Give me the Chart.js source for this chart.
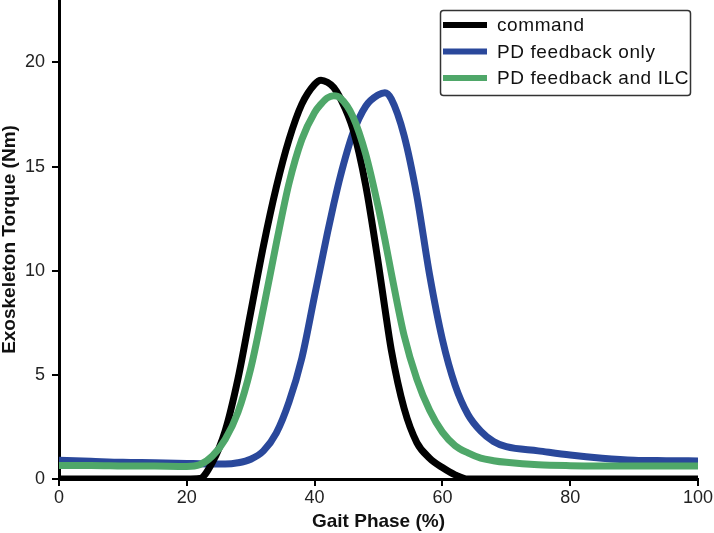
<!DOCTYPE html>
<html>
<head>
<meta charset="utf-8">
<script src="https://cdn.jsdelivr.net/npm/chart.js@4"></script>
<style>
    html, body { margin: 0; padding: 0; background: #ffffff; }
    #wrap { width: 714px; height: 533px; }
</style>
</head>
<body>
<div id="wrap"><canvas id="torqueChart" width="714" height="533"></canvas></div>
<script>
// gait phase (%) sample points, shared by all three curves
const phase = [0, 5, 10, 15, 20, 22, 24, 26, 28, 30, 32, 34, 36, 38, 40, 41, 42, 43, 44, 46, 48, 50, 51, 52, 54, 56, 58, 60, 62, 64, 66, 68, 70, 75, 80, 85, 90, 95, 100];

// torque values (Nm)
const command = [0, 0, 0, 0, 0, 0.02, 0.8, 2.3, 4.8, 8.0, 11.2, 14.0, 16.3, 18.0, 18.95, 19.15, 19.05, 18.8, 18.3, 16.8, 14.1, 10.3, 8.2, 6.2, 3.4, 1.75, 1.0, 0.55, 0.2, 0, 0, 0, 0, 0, 0, 0, 0, 0, 0];
const pdOnly = [0.9, 0.85, 0.8, 0.78, 0.75, 0.73, 0.72, 0.72, 0.78, 0.95, 1.35, 2.2, 3.7, 5.8, 8.8, 10.3, 11.8, 13.2, 14.5, 16.6, 17.9, 18.45, 18.55, 18.25, 16.5, 13.6, 9.8, 6.7, 4.5, 3.1, 2.3, 1.8, 1.55, 1.35, 1.15, 1.0, 0.9, 0.88, 0.87];
const pdIlc = [0.65, 0.65, 0.63, 0.62, 0.6, 0.68, 1.1, 1.9, 3.2, 5.3, 8.2, 11.3, 14.2, 16.3, 17.6, 18.0, 18.3, 18.4, 18.3, 17.4, 15.6, 13.0, 11.5, 9.9, 6.9, 4.8, 3.3, 2.25, 1.6, 1.25, 1.0, 0.88, 0.8, 0.68, 0.64, 0.63, 0.63, 0.63, 0.63];

const seriesNames = ['command', 'PD feedback only', 'PD feedback and ILC'];
const seriesColors = ['#000000', '#2a489b', '#4fa769'];

const yTicks = [0, 5, 10, 15, 20];
const xTicks = [0, 20, 40, 60, 80, 100];

const FONT = "'Liberation Sans', Arial, sans-serif";

function toPoints(values) {
    return phase.map((p, i) => ({ x: p, y: values[i] }));
}

// Boxed legend in the upper right, drawn from the dataset labels/colours
const boxLegend = {
    id: 'boxLegend',
    afterDraw(chart) {
        const ctx = chart.ctx;
        const x0 = 440.5, y0 = 10.5, w = 250, h = 85;
        ctx.save();
        ctx.beginPath();
        ctx.roundRect(x0, y0, w, h, 3);
        ctx.fillStyle = '#ffffff';
        ctx.fill();
        ctx.lineWidth = 1.5;
        ctx.strokeStyle = '#333333';
        ctx.stroke();

        ctx.font = '19px ' + FONT;
        ctx.textBaseline = 'middle';
        ctx.fillStyle = '#111111';
        ctx.letterSpacing = '0.6px';
        chart.data.datasets.forEach((ds, i) => {
            const y = 25 + i * 26.5;
            ctx.beginPath();
            ctx.moveTo(443, y);
            ctx.lineTo(487, y);
            ctx.lineWidth = 6;
            ctx.strokeStyle = ds.borderColor;
            ctx.stroke();
            ctx.fillText(ds.label, 497, y + 1);
        });
        ctx.restore();
    }
};

function axisStyle() {
    return {
        grid: {
            display: true,
            drawOnChartArea: false,
            drawTicks: true,
            tickLength: 7,
            color: '#000000',
            lineWidth: 2
        },
        border: {
            display: true,
            color: '#000000',
            width: 3
        }
    };
}

const ctx = document.getElementById('torqueChart').getContext('2d');
const chart = new Chart(ctx, {
    type: 'line',
    data: {
        datasets: [command, pdOnly, pdIlc].map((vals, i) => ({
            label: seriesNames[i],
            data: toPoints(vals),
            borderColor: seriesColors[i],
            borderWidth: 7,
            pointRadius: 0,
            fill: false,
            cubicInterpolationMode: 'monotone',
            order: [1, 2, 0][i]   // green on top, then black, blue underneath
        }))
    },
    options: {
        responsive: false,
        animation: false,
        devicePixelRatio: 1,
        layout: {
            padding: { left: 0, right: 15, top: 0, bottom: 0 }
        },
        plugins: {
            legend: { display: false },
            tooltip: { enabled: false }
        },
        scales: {
            x: {
                type: 'linear',
                min: 0,
                max: 100,
                ...axisStyle(),
                afterBuildTicks: scale => { scale.ticks = xTicks.map(v => ({ value: v })); },
                afterFit: scale => { scale.height = 54; },
                ticks: {
                    font: { size: 18, family: FONT },
                    color: '#222222',
                    padding: 1,
                    maxRotation: 0
                },
                title: {
                    display: true,
                    text: 'Gait Phase (%)',
                    font: { size: 19, weight: 'bold', family: FONT },
                    color: '#111111',
                    padding: { top: 0, bottom: 0 }
                }
            },
            y: {
                type: 'linear',
                min: 0,
                max: 23,
                ...axisStyle(),
                afterBuildTicks: scale => { scale.ticks = yTicks.map(v => ({ value: v })); },
                afterFit: scale => {
                    scale.width = 59;
                    scale.paddingTop = 0;
                    scale.paddingBottom = 0;
                },
                ticks: {
                    font: { size: 18, family: FONT },
                    color: '#222222',
                    padding: 7
                },
                title: {
                    display: true,
                    text: 'Exoskeleton Torque (Nm)',
                    font: { size: 19, weight: 'bold', family: FONT, lineHeight: 1 },
                    color: '#111111',
                    padding: 0
                }
            }
        }
    },
    plugins: [boxLegend]
});
</script>
</body>
</html>
